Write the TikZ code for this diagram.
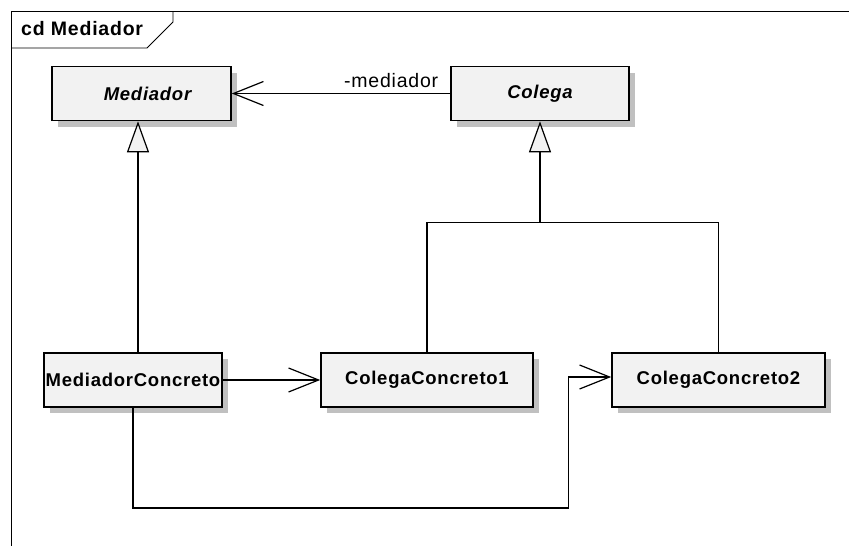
\documentclass[tikz,border=0pt]{standalone}
\usepackage{fontspec}
\setmainfont{Liberation Sans}[LetterSpace=4]
\usetikzlibrary{arrows.meta,shadows}
\definecolor{boxfill}{HTML}{F2F2F2}
\definecolor{shadowgray}{HTML}{C0C0C0}
\tikzset{
  umlclass/.style={draw=black, line width=1.6pt, fill=boxfill,
    minimum height=54pt, inner sep=0pt,
    font=\fontsize{18.5}{22}\selectfont\bfseries,
    drop shadow={shadow xshift=6pt, shadow yshift=-6pt, fill=shadowgray, opacity=1}},
  abstractname/.style={font=\fontsize{18.5}{22}\selectfont\bfseries\itshape},
  assoc/.style={draw=black, line width=1.2pt,
    -{Straight Barb[length=30pt, width=24pt, line width=1.2pt]}},
  inherit/.style={draw=black, line width=1.2pt,
    -{Triangle[open, length=31pt, width=22pt, line width=1.2pt, fill=boxfill]}},
  link/.style={draw=black, line width=1.2pt},
  framestyle/.style={draw=black, line width=0.8pt}
}
\begin{document}
\begin{tikzpicture}[x=1pt, y=-1pt]
  \useasboundingbox (0,0) rectangle (849,546);
  % diagram frame and its name tab
  \draw[framestyle] (11,546) -- (11,11) -- (849,11);
  \draw[framestyle] (11,48) -- (147,48) -- (173,22) -- (173,11);
  \node[anchor=base west, inner sep=0pt, font=\fontsize{19.5}{23}\selectfont\bfseries] (title) at (21,35) {cd Mediador};

  % classes
  \node[umlclass, abstractname, minimum width=179pt] (med) at (141.5,93.5) {\hspace*{12pt}Mediador};
  \node[umlclass, abstractname, minimum width=178pt] (col) at (540,93.5) {Colega};
  \node[umlclass, minimum width=178pt] (medc) at (133,380) {MediadorConcreto};
  \node[umlclass, minimum width=212pt] (col1) at (427,380) {ColegaConcreto1};
  \node[umlclass, minimum width=213pt] (col2) at (718.5,380) {ColegaConcreto2};

  % association Colega -> Mediador
  \draw[assoc] (col.west) -- node[above=2pt, pos=0.27, font=\fontsize{19.5}{23}\selectfont] (rolelbl) {-mediador} (med.east);

  % generalization MediadorConcreto -> Mediador
  \draw[inherit] (medc.north -| 138,0) -- (med.south -| 138,0);

  % generalization tree to Colega
  \coordinate (join) at (540,222.5);
  \draw[link] (col1.north) |- (join) -| (col2.north);
  \draw[inherit] (join) -- (col.south);

  % MediadorConcreto knows both concrete colleagues
  \draw[assoc] (medc.east) -- (col1.west);
  \coordinate (bendA) at (133,508);
  \coordinate (bendB) at (568.5,508);
  \draw[assoc] (medc.south) -- (bendA) -- (bendB) |- (col2.west |- 0,377);
\end{tikzpicture}
\end{document}
